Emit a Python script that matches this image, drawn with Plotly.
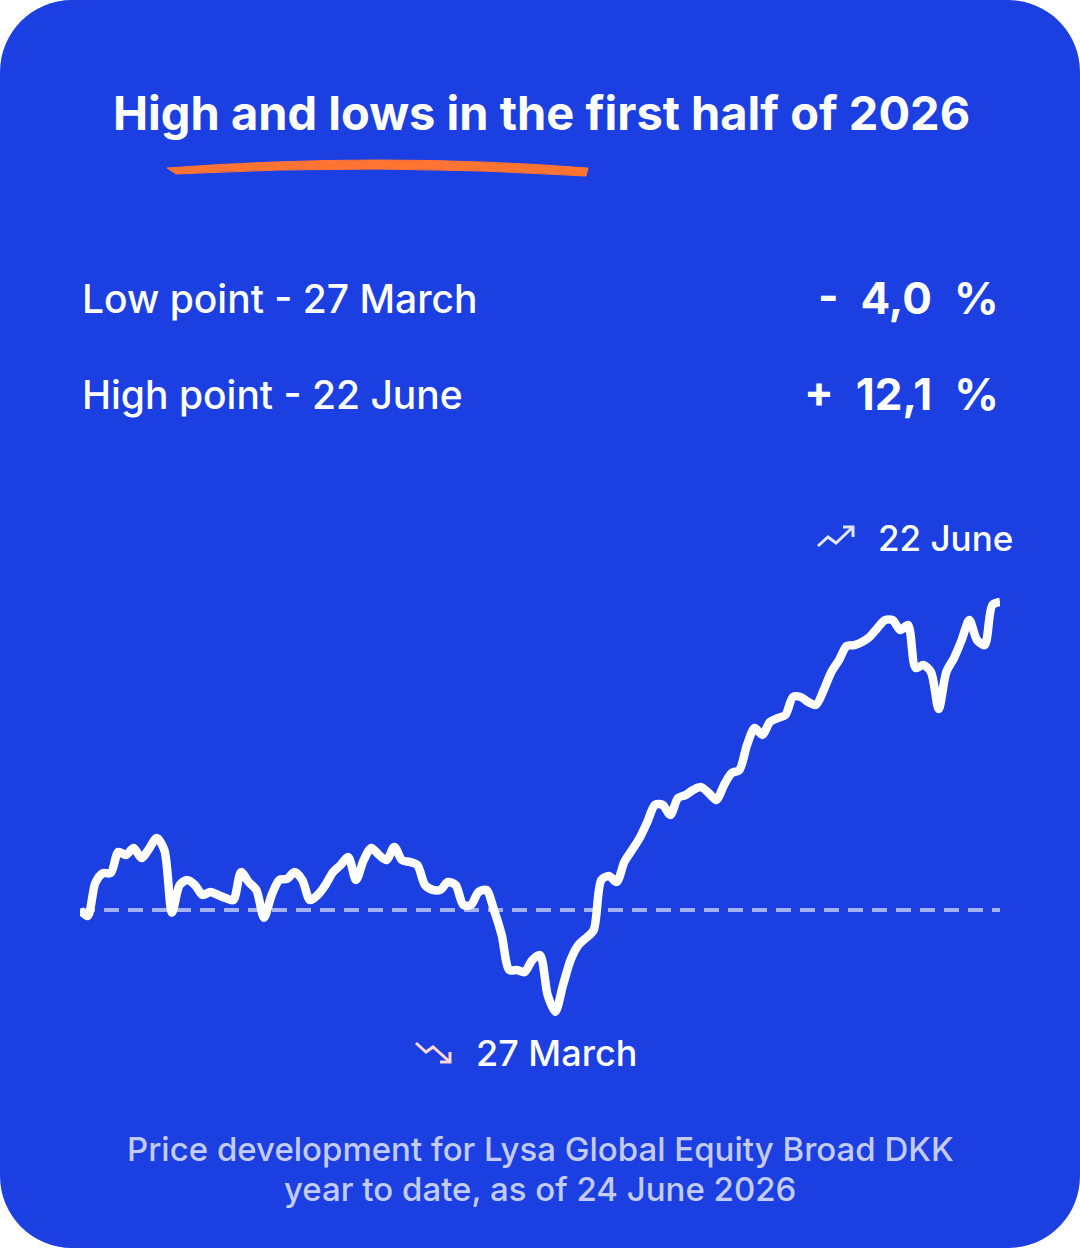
import plotly.graph_objects as go

W, H = 1080, 1248

# ---- data ----
days = list(range(0, 121))
values = [
    0.0, -0.24, 1.06, 1.45, 1.45, 2.28, 2.16, 2.44, 2.04, 2.4,
    2.83, 2.36, -0.1, 0.98, 1.18, 0.98, 0.59, 0.71, 0.59, 0.47,
    0.39, 1.49, 1.10, 0.79, -0.3, 0.59, 1.18, 1.22, 1.49, 1.18,
    0.39, 0.59, 0.98, 1.49, 1.77, 2.08, 1.18, 1.96, 2.44, 2.16,
    1.96, 2.48, 1.96, 1.89, 1.77, 0.98, 0.79, 0.79, 1.10, 0.98,
    0.20, 0.20, 0.71, 0.79, 0.0, -0.98, -2.36, -2.36, -2.44, -1.96,
    -1.77, -3.34, -4.0, -2.95, -1.96, -1.38, -1.10, -0.79, 1.18, 1.34,
    1.10, 1.89, 2.36, 2.83, 3.46, 4.13, 4.13, 3.73, 4.40, 4.52,
    4.72, 4.83, 4.60, 4.32, 4.91, 5.38, 5.50, 6.48, 7.15, 6.88,
    7.39, 7.54, 7.66, 8.37, 8.37, 8.17, 8.06, 8.64, 9.35, 9.82,
    10.37, 10.41, 10.53, 10.73, 11.08, 11.39, 11.39, 11.00, 11.20, 9.51,
    9.63, 9.35, 7.9, 9.35, 9.90, 10.61, 11.39, 10.61, 10.41, 11.98,
    12.1,
]

title = "High and lows in the first half of 2026"
row_labels = ["Low point - 27 March", "High point - 22 June"]
row_values = ["-\u20024,0\u2002%", "+\u200212,1\u2002%"]
high_label = "22 June"
low_label = "27 March"
footer = ["Price development for Lysa Global Equity Broad DKK",
          "year to date, as of 24 June 2026"]

BLUE = "#1b3fe0"
FONT = "Inter"


def px(x):
    return x / W


def py(y):
    return 1 - y / H


fig = go.Figure()

fig.add_trace(go.Scatter(
    x=[days[0], days[-1]], y=[0, 0], mode="lines",
    line=dict(color="rgba(255,255,255,0.6)", width=4, dash="15px,9px"),
    hoverinfo="skip", cliponaxis=False, showlegend=False))

fig.add_trace(go.Scatter(
    x=days, y=values, mode="lines",
    line=dict(color="white", width=8.5, shape="spline", smoothing=0.8),
    cliponaxis=False, showlegend=False))

shapes = []
# rounded background
r = 72
k = 0.5523 * r
x0, y0, x1, y1 = 0, 0, W, H
path = (f"M {px(x0 + r)},{py(y0)} L {px(x1 - r)},{py(y0)} "
        f"C {px(x1 - r + k)},{py(y0)} {px(x1)},{py(y0 + r - k)} {px(x1)},{py(y0 + r)} "
        f"L {px(x1)},{py(y1 - r)} "
        f"C {px(x1)},{py(y1 - r + k)} {px(x1 - r + k)},{py(y1)} {px(x1 - r)},{py(y1)} "
        f"L {px(x0 + r)},{py(y1)} "
        f"C {px(x0 + r - k)},{py(y1)} {px(x0)},{py(y1 - r + k)} {px(x0)},{py(y1 - r)} "
        f"L {px(x0)},{py(y0 + r)} "
        f"C {px(x0)},{py(y0 + r - k)} {px(x0 + r - k)},{py(y0)} {px(x0 + r)},{py(y0)} Z")
shapes.append(dict(type="path", xref="paper", yref="paper", path=path,
                   fillcolor=BLUE, line=dict(width=0), layer="below"))

# orange brush underline
brush = (f"M {px(167)},{py(168)} "
         f"Q {px(380)},{py(152)} {px(588)},{py(168)} "
         f"L {px(586)},{py(176)} "
         f"Q {px(380)},{py(163)} {px(176)},{py(174)} Z")
shapes.append(dict(type="path", xref="paper", yref="paper", path=brush,
                   fillcolor="#ff7433", line=dict(color="#ff7433", width=1)))


def polyline(pts, color):
    return dict(type="path", xref="paper", yref="paper",
                path="M " + " L ".join(f"{px(x)},{py(y)}" for x, y in pts),
                line=dict(color=color, width=3))


# trending-up icon
shapes.append(polyline([(818, 546), (828, 537), (836, 543), (853, 527)], "#dfe6ff"))
shapes.append(polyline([(843, 527), (853, 527), (853, 537)], "#dfe6ff"))
# trending-down icon
shapes.append(polyline([(416, 1043), (426, 1052), (433, 1047), (450, 1062)], "#ffd6d6"))
shapes.append(polyline([(450, 1052), (450, 1062), (440, 1062)], "#ffd6d6"))

ann = []


def text(t, x, y, size, weight, color="white", xanchor="left"):
    ann.append(dict(text=t, x=px(x), y=py(y), xref="paper", yref="paper",
                    xanchor=xanchor, yanchor="middle", showarrow=False,
                    font=dict(family=FONT, size=size, color=color, weight=weight)))


text(title, 541, 112, 47, 700, xanchor="center")
text(row_labels[0], 80, 298, 39, 500)
text(row_labels[1], 80, 394, 39, 500)
text(row_values[0], 1001, 298, 44, 700, xanchor="right")
text(row_values[1], 1001, 394, 44, 700, xanchor="right")
text(high_label, 876, 538, 35, 500)
text(low_label, 474, 1053, 36, 500)
text(footer[0], 540, 1149, 33, 500, color="#c3cbf7", xanchor="center")
text(footer[1], 540, 1189, 33, 500, color="#c3cbf7", xanchor="center")

# plot area: x 80..1000 px, y 500..1100 px ; 0 -> 910px, 25.45 px per %
ppu = 25.45
ytop, ybot, yzero = 500, 1100, 910
fig.update_layout(
    width=W, height=H,
    margin=dict(l=0, r=0, t=0, b=0),
    paper_bgcolor="white", plot_bgcolor="rgba(0,0,0,0)",
    xaxis=dict(domain=[80 / W, 1000 / W], range=[days[0], days[-1]],
               visible=False, fixedrange=True),
    yaxis=dict(domain=[1 - ybot / H, 1 - ytop / H],
               range=[(yzero - ybot) / ppu, (yzero - ytop) / ppu],
               visible=False, fixedrange=True),
    shapes=shapes, annotations=ann, showlegend=False,
)

fig.write_html("out.html")
